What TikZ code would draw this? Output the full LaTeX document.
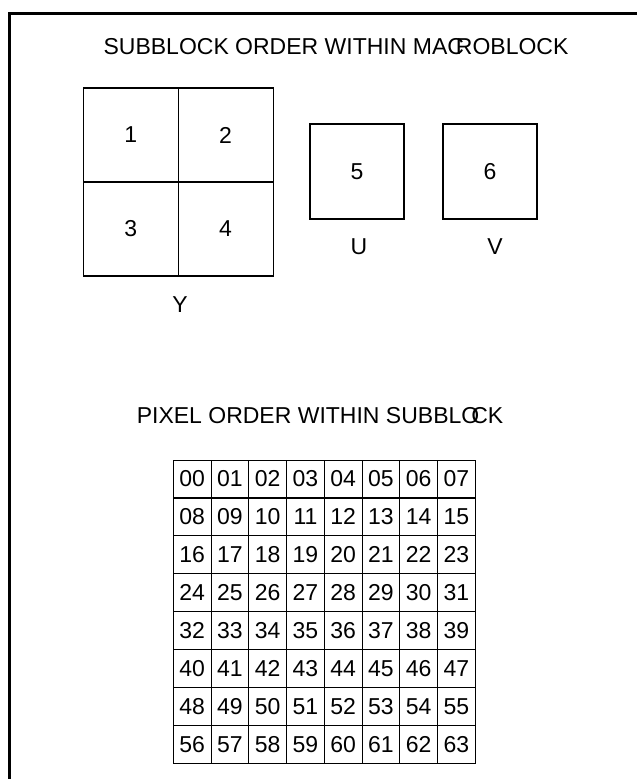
\documentclass[tikz,border=0pt]{standalone}
\usepackage{fontspec}
\setmainfont{Liberation Sans}
\usetikzlibrary{positioning}

\begin{document}
\begin{tikzpicture}[x=1pt,y=-1pt,
  every node/.style={font=\fontsize{23}{27}\selectfont,inner sep=0pt},
  blk/.style={draw,line width=1.2pt,minimum width=95pt,minimum height=94pt},
  chroma/.style={draw,line width=1.2pt,minimum width=94pt,minimum height=95pt},
  pix/.style={draw,line width=1.1pt,minimum width=37.75pt,minimum height=37.9pt},
  frame/.style={line width=3pt}
]
\useasboundingbox (0,0) rectangle (637,779);

% open frame, left and top
\coordinate (frBL) at (9.5,779);
\coordinate (frTL) at (9.5,13);
\coordinate (frTR) at (637,13);
\draw[frame] (frBL) -- (frTL) -- (frTR);

% subblocks of the macroblock
\node (ttlMacro) at (336,47) {SUBBLOCK ORDER WITHIN MAC\kern-.35em ROBLOCK};
\node[blk] (sub1) at (130.7,135) {1};
\node[blk] (sub2) at (225.6,135) {2};
\node[blk] (sub3) at (130.7,229) {3};
\node[blk] (sub4) at (225.6,229) {4};
\node[chroma] (sub5) at (357,171.5) {5};
\node[chroma] (sub6) at (490,171.5) {6};
\node (lblY) at (180,305) {Y};
\node (lblU) at (359,247) {U};
\node (lblV) at (495,247) {V};

% pixels of one subblock
\node (ttlPix) at (320,416) {PIXEL ORDER WITHIN SUBBLO\kern-.35em CK};
\foreach \r in {0,...,7}{
  \foreach \c in {0,...,7}{
    \pgfmathtruncatemacro\n{8*\r+\c}
    \node[pix] (pix\r\c) at ({192.2+37.75*\c},{479+37.9*\r}) {\ifnum\n<10 0\fi\n};
  }
}
\end{tikzpicture}
\end{document}
